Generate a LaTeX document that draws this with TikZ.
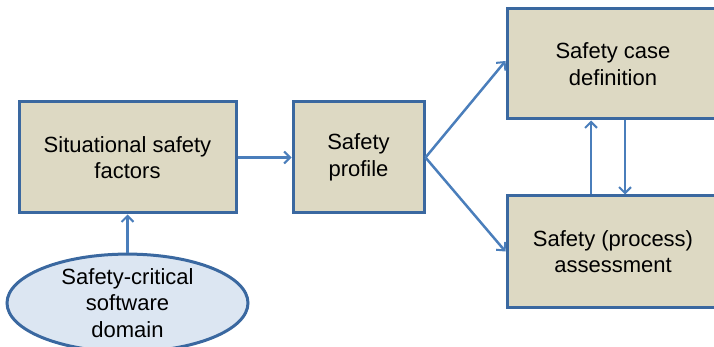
\documentclass[tikz,border=0pt]{standalone}
\usepackage{fontspec}
\setmainfont{Liberation Sans}
\usetikzlibrary{arrows.meta,shapes.geometric}
\definecolor{boxfill}{HTML}{DDD9C3}
\definecolor{boxline}{HTML}{3A68A0}
\definecolor{ovalfill}{HTML}{DCE6F2}
\definecolor{arrowblue}{HTML}{4A7EBB}
\begin{document}
\begin{tikzpicture}[x=1pt, y=-1pt,
  stepbox/.style={rectangle, draw=boxline, line width=3pt, fill=boxfill, align=center,
    font=\fontsize{22}{26.5}\selectfont, inner sep=0pt},
  domainoval/.style={ellipse, draw=boxline, line width=3pt, fill=ovalfill, align=center,
    font=\fontsize{22}{26.5}\selectfont, inner sep=0pt},
  flow/.style={-{Straight Barb[length=6pt,width=12pt,line width=2pt]}, draw=arrowblue, line width=2.5pt}]
  \useasboundingbox (0,0) rectangle (714,347);

  % Left part: factors and domain
  \node[stepbox, minimum width=217pt, minimum height=111pt] (situational) at (127.5, 157.5) {Situational safety\\factors};
  \node[domainoval, minimum width=241pt, minimum height=90pt] (swdomain) at (127.5, 303) {Safety-critical\\software\\domain};

  % Middle: profile
  \node[stepbox, minimum width=131pt, minimum height=111pt] (profile) at (358.5, 157.5) {Safety\\profile};

  % Right part: case definition and assessment
  \node[stepbox, minimum width=212pt, minimum height=110pt] (casedef) at (613, 64) {Safety case\\definition};
  \node[stepbox, minimum width=212pt, minimum height=111pt] (assess) at (613, 251.5) {Safety (process)\\assessment};

  % Connectors
  \draw[flow] (swdomain.north) -- (situational.south);
  \draw[flow] (situational.east) -- (profile.west);
  \draw[flow] (profile.east) -- ([yshift=3pt]casedef.west);
  \draw[flow] (profile.east) -- (assess.west);
  \draw[flow] ([xshift=-22pt]assess.north) -- ([xshift=-22pt]casedef.south);
  \draw[flow] ([xshift=12pt]casedef.south) -- ([xshift=12pt]assess.north);
\end{tikzpicture}
\end{document}
